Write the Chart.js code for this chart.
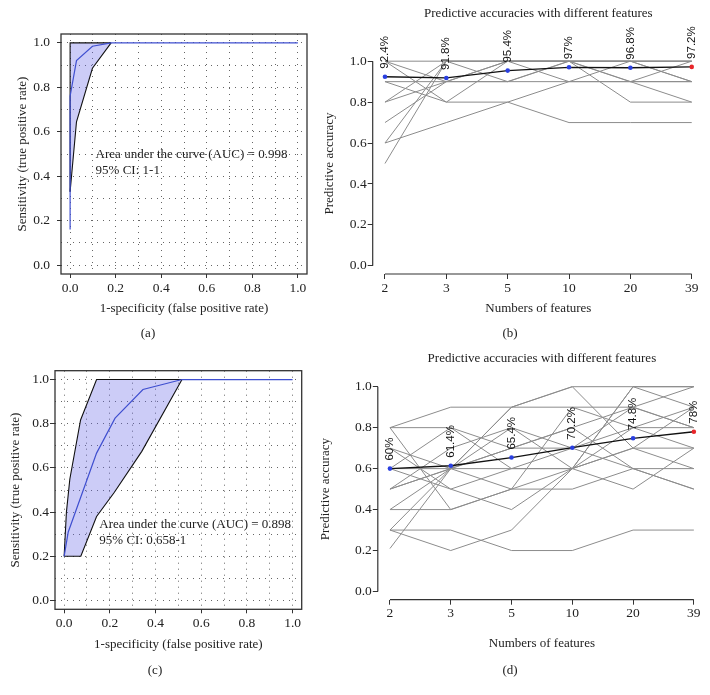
<!DOCTYPE html>
<html>
<head>
<meta charset="utf-8">
<script src="https://cdn.jsdelivr.net/npm/chart.js@4.4.1/dist/chart.umd.min.js"></script>
<style>
  body { margin: 0; background: #fff; }
  #wrap { position: relative; width: 710px; height: 695px; overflow: hidden; }
  canvas { position: absolute; }
  .tag { position: absolute; font: 13px "Liberation Serif", serif; color: #222; transform: translate(-50%, -50%); }
</style>
</head>
<body>
<div id="wrap">
  <canvas id="rocA" width="330" height="340" style="left:0;top:0"></canvas>
  <canvas id="accB" width="410" height="340" style="left:300px;top:0"></canvas>
  <canvas id="rocC" width="330" height="355" style="left:0;top:340px"></canvas>
  <canvas id="accD" width="410" height="355" style="left:300px;top:340px"></canvas>
  <div class="tag" style="left:148px;top:333px">(a)</div>
  <div class="tag" style="left:510px;top:333px">(b)</div>
  <div class="tag" style="left:155px;top:670px">(c)</div>
  <div class="tag" style="left:510px;top:670px">(d)</div>
</div>
<script>
// ---- data: ROC (a) ----
const rocAx = [0, 0, 0.028, 0.098, 0.18, 1];
const rocAy = [0.16, 0.76, 0.92, 0.985, 1, 1];
const ciUpAx = [0, 0, 0.18];
const ciUpAy = [0.33, 1, 1];
const ciLoAx = [0, 0.028, 0.098, 0.18];
const ciLoAy = [0.33, 0.645, 0.886, 1];
const aucA = ["Area under the curve (AUC) = 0.998", "95% CI: 1-1"];

// ---- data: ROC (c) ----
const rocCx = [0, 0.018, 0.142, 0.223, 0.345, 0.516, 1];
const rocCy = [0.2, 0.31, 0.667, 0.825, 0.955, 1, 1];
const ciUpCx = [0, 0.01, 0.025, 0.072, 0.142, 0.516];
const ciUpCy = [0.2, 0.4, 0.55, 0.817, 1, 1];
const ciLoCx = [0, 0.073, 0.142, 0.22, 0.34, 0.516];
const ciLoCy = [0.2, 0.2, 0.38, 0.49, 0.675, 1];
const aucC = ["Area under the curve (AUC) = 0.898", "95% CI: 0.658-1"];

// ---- data: accuracies ----
const featureCounts = ["2", "3", "5", "10", "20", "39"];
const meanB = [0.924, 0.918, 0.954, 0.970, 0.968, 0.972];
const runsB = [
  [1.0, 1.0, 1.0, 1.0, 1.0, 1.0],
  [0.9, 0.9, 0.9, 0.9, 0.9, 0.9],
  [1.0, 0.8, 0.8, 0.7, 0.7, 0.7],
  [1.0, 0.9, 1.0, 0.9, 0.9, 0.9],
  [0.8, 1.0, 1.0, 1.0, 0.8, 0.8],
  [0.6, 0.7, 0.8, 0.9, 1.0, 0.9],
  [0.5, 1.0, 1.0, 1.0, 0.9, 1.0],
  [0.7, 0.9, 1.0, 1.0, 1.0, 1.0],
  [0.6, 1.0, 0.9, 1.0, 0.9, 0.8],
  [0.9, 0.8, 1.0, 1.0, 1.0, 0.9],
  [0.8, 0.9, 0.9, 1.0, 1.0, 1.0]
];
const meanD = [0.60, 0.614, 0.654, 0.702, 0.748, 0.78];
const runsD = [
  [0.3, 0.3, 0.2, 0.2, 0.3, 0.3],
  [0.3, 0.2, 0.3, 0.6, 1.0, 1.0],
  [0.21, 0.6, 0.5, 0.6, 0.7, 0.6],
  [0.8, 0.9, 0.9, 1.0, 1.0, 1.0],
  [0.8, 0.8, 0.7, 0.7, 0.8, 0.8],
  [0.8, 0.4, 0.5, 0.5, 0.6, 0.5],
  [0.7, 0.6, 0.9, 0.9, 0.8, 0.9],
  [0.7, 0.5, 0.6, 0.7, 0.9, 1.0],
  [0.6, 0.8, 0.6, 0.6, 0.7, 0.7],
  [0.5, 0.7, 0.8, 0.7, 0.6, 0.5],
  [0.5, 0.6, 0.7, 0.8, 0.6, 0.6],
  [0.4, 0.4, 0.5, 0.9, 0.9, 0.8],
  [0.4, 0.6, 0.8, 0.6, 0.8, 0.7],
  [0.6, 0.5, 0.4, 0.6, 1.0, 0.9],
  [0.5, 0.6, 0.9, 1.0, 0.7, 0.9],
  [0.6, 0.6, 0.6, 0.6, 0.5, 0.7],
  [0.3, 0.6, 0.7, 0.8, 0.9, 0.8]
];

Chart.defaults.font.family = '"Liberation Serif", serif';
Chart.defaults.color = '#222';
Chart.defaults.animation = false;

const pts = (xs, ys) => xs.map((x, i) => ({ x: x, y: ys[i] }));
const tenths = v => Math.round(v * 10);

// box around the ROC plot region
const frame = {
  id: 'frame',
  afterDatasetsDraw(chart) {
    const { ctx, chartArea: a } = chart;
    ctx.save();
    ctx.strokeStyle = '#333';
    ctx.lineWidth = 1.3;
    ctx.strokeRect(a.left, a.top, a.width, a.height);
    ctx.restore();
  }
};

// AUC text, placed in data coordinates
const aucNote = {
  id: 'aucNote',
  afterDatasetsDraw(chart, args, o) {
    const { ctx, scales: { x, y } } = chart;
    ctx.save();
    ctx.font = '13px "Liberation Serif"';
    ctx.fillStyle = '#222';
    ctx.textBaseline = 'middle';
    o.lines.forEach((t, i) => ctx.fillText(t, x.getPixelForValue(o.x), y.getPixelForValue(o.y) + i * 16));
    ctx.restore();
  }
};

// R-style axis lines, from first to last tick only
const rAxes = {
  id: 'rAxes',
  afterDraw(chart) {
    const { ctx, chartArea: a, scales: { x, y } } = chart;
    const xt = x.ticks, yt = y.ticks;
    ctx.save();
    ctx.strokeStyle = '#333';
    ctx.lineWidth = 1.2;
    ctx.beginPath();
    ctx.moveTo(a.left, y.getPixelForValue(yt[0].value));
    ctx.lineTo(a.left, y.getPixelForValue(yt[yt.length - 1].value));
    ctx.moveTo(x.getPixelForValue(xt[0].value), a.bottom);
    ctx.lineTo(x.getPixelForValue(xt[xt.length - 1].value), a.bottom);
    ctx.stroke();
    ctx.restore();
  }
};

// rotated percentage labels above the mean points
const meanLabels = {
  id: 'meanLabels',
  afterDatasetsDraw(chart) {
    const meta = chart.getDatasetMeta(0);
    const ctx = chart.ctx;
    const vals = chart.data.datasets[0].data;
    ctx.save();
    ctx.font = '11.5px "Liberation Sans"';
    ctx.fillStyle = '#111';
    ctx.textAlign = 'left';
    ctx.textBaseline = 'middle';
    meta.data.forEach((p, i) => {
      ctx.save();
      ctx.translate(p.x, p.y - 8);
      ctx.rotate(-Math.PI / 2);
      ctx.fillText(+(vals[i].y * 100).toFixed(1) + '%', 0, 0);
      ctx.restore();
    });
    ctx.restore();
  }
};

function rocChart(id, d) {
  return new Chart(document.getElementById(id), {
    type: 'line',
    data: {
      datasets: [
        { data: pts(d.rx, d.ry), borderColor: '#3f4fd0', borderWidth: 1.2, pointRadius: 0, fill: false, order: 0 },
        { data: pts(d.ux, d.uy), borderColor: '#111', borderWidth: 1.1, pointRadius: 0,
          fill: 2, backgroundColor: 'rgba(100,100,230,0.33)', order: 1 },
        { data: pts(d.lx, d.ly), borderColor: '#111', borderWidth: 1.1, pointRadius: 0, fill: false, order: 2 }
      ]
    },
    options: {
      responsive: false,
      layout: { padding: d.pad },
      plugins: {
        legend: { display: false },
        tooltip: { enabled: false },
        filler: { drawTime: 'beforeDatasetsDraw' },
        aucNote: { lines: d.note, x: d.nx, y: d.ny }
      },
      scales: {
        x: {
          type: 'linear', min: -0.04, max: 1.04,
          border: { display: false, dash: [1, 5] },
          grid: { color: '#666', tickLength: 4,
            tickColor: c => tenths(c.tick.value) % 2 ? 'rgba(0,0,0,0)' : '#333' },
          ticks: { stepSize: 0.1, includeBounds: false, autoSkip: false, maxRotation: 0,
            padding: d.xTickPad, font: { size: 13.5 }, color: '#222',
            callback: v => tenths(v) % 2 ? '' : v.toFixed(1) },
          title: { display: true, text: '1-specificity (false positive rate)', font: { size: 13 }, padding: 0 },
          afterFit: s => { s.height = d.xH; }
        },
        y: {
          type: 'linear', min: -0.04, max: 1.04,
          border: { display: false, dash: [1, 5] },
          grid: { color: '#666', tickLength: d.yTickLen,
            tickColor: c => tenths(c.tick.value) % 2 ? 'rgba(0,0,0,0)' : '#333' },
          ticks: { stepSize: 0.1, includeBounds: false, autoSkip: false,
            padding: d.yTickPad, font: { size: 13.5 }, color: '#222',
            callback: v => tenths(v) % 2 ? '' : v.toFixed(1) },
          title: { display: true, text: 'Sensitivity (true positive rate)', font: { size: 13 },
            padding: { top: d.yTitlePad, bottom: 0 } },
          afterFit: s => { s.width = d.yW; }
        }
      }
    },
    plugins: [frame, aucNote]
  });
}

function accChart(id, mean, runs, d) {
  const colors = mean.map((v, i) => i === mean.length - 1 ? '#e8262a' : '#2a3fe0');
  const sets = [{ data: mean.map((v, i) => ({ x: i, y: v })), borderColor: '#111', borderWidth: 1.3,
    pointRadius: 2.3, pointBorderWidth: 0, pointBackgroundColor: colors, order: 0 }];
  runs.forEach(r => sets.push({ data: r.map((v, i) => ({ x: i, y: v })), borderColor: '#8c8c8c',
    borderWidth: 1, pointRadius: 0, order: 1 }));
  return new Chart(document.getElementById(id), {
    type: 'line',
    data: { datasets: sets },
    options: {
      responsive: false,
      layout: { padding: d.pad },
      plugins: {
        legend: { display: false },
        tooltip: { enabled: false },
        title: { display: true, text: 'Predictive accuracies with different features', fullSize: false,
          font: { size: 13, weight: 'normal' }, color: '#222', padding: { top: 0, bottom: d.titleGap } }
      },
      scales: {
        x: {
          type: 'linear', min: -0.2, max: 5.2,
          border: { display: false },
          grid: { drawOnChartArea: false, tickLength: 5, tickColor: '#333' },
          ticks: { stepSize: 1, includeBounds: false, autoSkip: false, maxRotation: 0, padding: 1,
            font: { size: 13.5 }, color: '#222', callback: v => featureCounts[v] },
          title: { display: true, text: 'Numbers of features', font: { size: 13 }, padding: 0 },
          afterFit: s => { s.height = d.xH; }
        },
        y: {
          type: 'linear', min: -0.04, max: 1.04,
          border: { display: false },
          grid: { drawOnChartArea: false, tickLength: 5, tickColor: '#333' },
          ticks: { stepSize: 0.2, includeBounds: false, autoSkip: false, padding: 1,
            font: { size: 13.5 }, color: '#222', callback: v => v.toFixed(1) },
          title: { display: true, text: 'Predictive accuracy', font: { size: 13 },
            padding: { top: d.yTitlePad, bottom: 0 } },
          afterFit: s => { s.width = d.yW; }
        }
      }
    },
    plugins: [rAxes, meanLabels]
  });
}

rocChart('rocA', {
  rx: rocAx, ry: rocAy, ux: ciUpAx, uy: ciUpAy, lx: ciLoAx, ly: ciLoAy,
  note: aucA, nx: 0.112, ny: 0.498,
  pad: { top: 34, right: 23, bottom: 24, left: 0 },
  xH: 42, yW: 61, xTickPad: 2, yTickLen: 4, yTickPad: 7, yTitlePad: 15
});

rocChart('rocC', {
  rx: rocCx, ry: rocCy, ux: ciUpCx, uy: ciUpCy, lx: ciLoCx, ly: ciLoCy,
  note: aucC, nx: 0.154, ny: 0.342,
  pad: { top: 30.7, right: 28.3, bottom: 42.2, left: 0 },
  xH: 43.5, yW: 55, xTickPad: 2.3, yTickLen: 5, yTickPad: 1, yTitlePad: 8
});

accChart('accB', meanB, runsB, {
  pad: { top: 6.2, right: 6, bottom: 24, left: 0 },
  titleGap: 31.2, xH: 42, yW: 72.7, yTitlePad: 22
});

accChart('accD', meanD, runsD, {
  pad: { top: 10.5, right: 1.8, bottom: 44, left: 0 },
  titleGap: 12.4, xH: 51.3, yW: 77.8, yTitlePad: 18
});
</script>
</body>
</html>
